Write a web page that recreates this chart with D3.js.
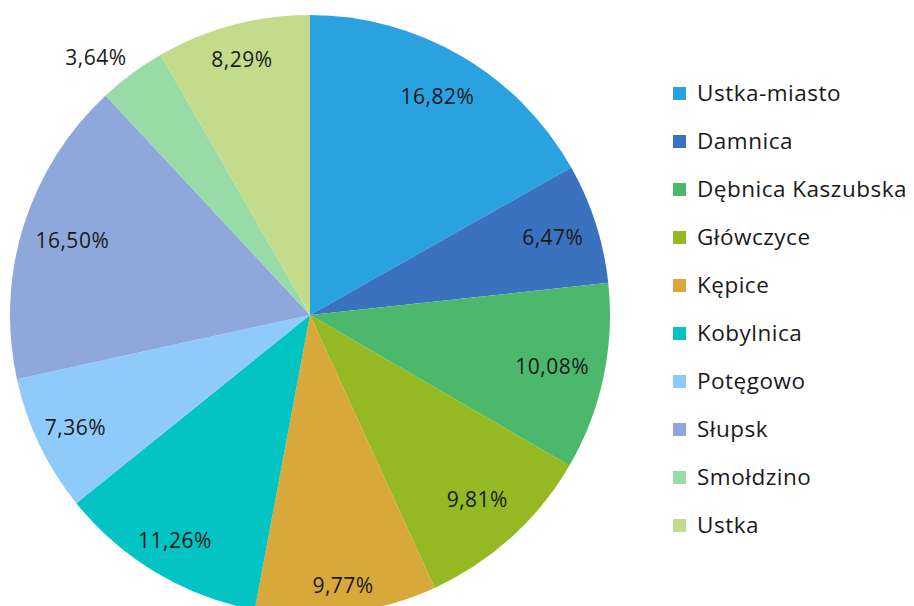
<!DOCTYPE html>
<html><head><meta charset="utf-8">
<script src="https://cdn.jsdelivr.net/npm/d3@7"></script>
<style>body{margin:0;background:#fff}svg{display:block}text{font-family:"Open Sans",Lato,sans-serif;fill:#1a1a1a}</style>
</head><body><svg id="c" width="914" height="606"></svg>
<script>
const categories = ["Ustka-miasto","Damnica","Dębnica Kaszubska","Główczyce","Kępice","Kobylnica","Potęgowo","Słupsk","Smołdzino","Ustka"];
const values = [16.82,6.47,10.08,9.81,9.77,11.26,7.36,16.50,3.64,8.29];
const labels = ["16,82%","6,47%","10,08%","9,81%","9,77%","11,26%","7,36%","16,50%","3,64%","8,29%"];
const colors = ["#2aa2e0","#3a72bf","#4cb86c","#95b922","#d9a83a","#03c3c3","#8ecbfa","#8ea8dc","#98dba6","#c3dc8b"];
// label placement (layout only): radius as fraction of pie radius, angle nudge in degrees
const labelRadius = [0.842,0.85,0.825,0.83,0.908,0.877,0.867,0.83,1.117,0.88];
const labelNudge = [0,0,0,0,0,0,0,0,-3.3,0];

const svg = d3.select("#c");
const cx = 310, cy = 315, R = 300;
const g = svg.append("g").attr("transform", `translate(${cx},${cy})`);
const pie = d3.pie().sort(null).value(d => d);
const arcs = pie(values);
const arc = d3.arc().innerRadius(0).outerRadius(R);
g.selectAll("path").data(arcs).join("path").attr("d", arc).attr("fill", (d,i) => colors[i]);

g.selectAll("text.lbl").data(arcs).join("text").attr("class","lbl")
  .attr("transform", (d,i) => {
    const a = (d.startAngle + d.endAngle)/2 + labelNudge[i]*Math.PI/180;
    const r = R*labelRadius[i];
    return `translate(${r*Math.sin(a)},${-r*Math.cos(a)})`;
  })
  .attr("text-anchor","middle").attr("dy","0.36em")
  .style("font-size","21px").style("letter-spacing","0.5px").text((d,i) => labels[i]);

const lg = svg.append("g");
const rows = lg.selectAll("g").data(categories).join("g")
  .attr("transform", (d,i) => `translate(673,${93 + i*48})`);
rows.append("rect").attr("x",0).attr("y",-6).attr("width",13).attr("height",13).attr("fill",(d,i)=>colors[i]);
rows.append("text").attr("x",24).attr("dy","0.36em").style("font-size","22.5px").style("letter-spacing","0.5px").text(d => d);
</script></body></html>
